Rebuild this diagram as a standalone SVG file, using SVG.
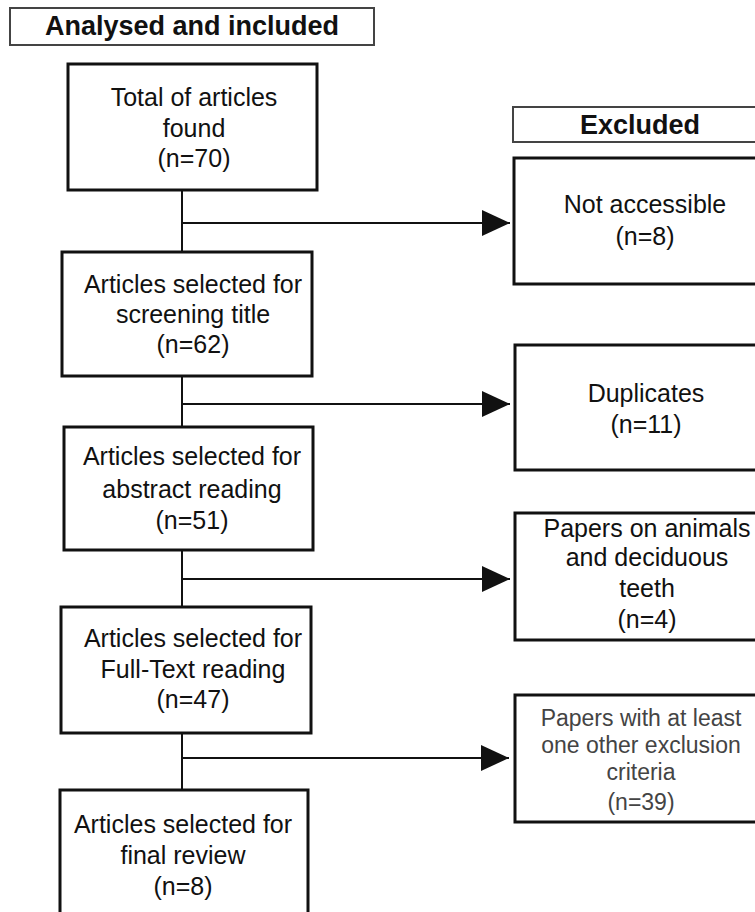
<svg xmlns="http://www.w3.org/2000/svg" width="755" height="912" viewBox="0 0 755 912">
<style>
  text { font-family: "Liberation Sans", Arial, sans-serif; fill: #111; text-anchor: middle; }
  .hdr rect { fill: #fff; stroke: #444; stroke-width: 2; }
  .hdr text { font-weight: bold; font-size: 27px; }
  .box rect { fill: #fff; stroke: #111; stroke-width: 3; }
  .box text { font-size: 25px; }
  .gray text { fill: #444; font-size: 23px; }
  .conn line { stroke: #111; stroke-width: 2; }
</style>
<defs>
  <marker id="arr" markerUnits="userSpaceOnUse" markerWidth="30" markerHeight="28" refX="28" refY="13" orient="auto">
    <polygon points="0,0 28,13 0,26" fill="#111"/>
  </marker>
</defs>
<rect width="755" height="912" fill="#fff"/>
<g id="connectors" class="conn">
  <line x1="182" y1="190" x2="182" y2="790"/>
  <line x1="182" y1="223" x2="510" y2="223" marker-end="url(#arr)"/>
  <line x1="182" y1="404" x2="510" y2="404" marker-end="url(#arr)"/>
  <line x1="182" y1="579" x2="510" y2="579" marker-end="url(#arr)"/>
  <line x1="182" y1="758" x2="509" y2="758" marker-end="url(#arr)"/>
</g>
<g id="hdr-included" class="hdr">
  <rect x="10" y="8" width="364" height="37"/>
  <text x="192" y="35">Analysed and included</text>
</g>
<g id="hdr-excluded" class="hdr">
  <rect x="513" y="107" width="260" height="35"/>
  <text x="640" y="134">Excluded</text>
</g>
<g id="n-total" class="box">
  <rect x="68" y="64" width="249" height="126"/>
  <text x="194" y="106">Total of articles</text>
  <text x="194" y="137">found</text>
  <text x="194" y="167">(n=70)</text>
</g>
<g id="n-screening" class="box">
  <rect x="62" y="252" width="250" height="124"/>
  <text x="193" y="293">Articles selected for</text>
  <text x="193" y="323">screening title</text>
  <text x="193" y="353">(n=62)</text>
</g>
<g id="n-abstract" class="box">
  <rect x="64" y="427" width="249" height="123"/>
  <text x="192" y="465">Articles selected for</text>
  <text x="192" y="498">abstract reading</text>
  <text x="192" y="529">(n=51)</text>
</g>
<g id="n-fulltext" class="box">
  <rect x="61" y="607" width="250" height="126"/>
  <text x="193" y="647">Articles selected for</text>
  <text x="193" y="678">Full-Text reading</text>
  <text x="193" y="708">(n=47)</text>
</g>
<g id="n-final" class="box">
  <rect x="60" y="790" width="248" height="140"/>
  <text x="183" y="833">Articles selected for</text>
  <text x="183" y="864">final review</text>
  <text x="183" y="895">(n=8)</text>
</g>
<g id="x-notaccessible" class="box">
  <rect x="514" y="158" width="260" height="126"/>
  <text x="645" y="213">Not accessible</text>
  <text x="645" y="245">(n=8)</text>
</g>
<g id="x-duplicates" class="box">
  <rect x="515" y="345" width="260" height="125"/>
  <text x="646" y="402">Duplicates</text>
  <text x="646" y="433">(n=11)</text>
</g>
<g id="x-animals" class="box">
  <rect x="515" y="513" width="260" height="127"/>
  <text x="647" y="537">Papers on animals</text>
  <text x="647" y="566">and deciduous</text>
  <text x="647" y="597">teeth</text>
  <text x="647" y="628">(n=4)</text>
</g>
<g id="x-other" class="box gray">
  <rect x="515" y="695" width="260" height="127"/>
  <text x="641" y="726">Papers with at least</text>
  <text x="641" y="753">one other exclusion</text>
  <text x="641" y="780">criteria</text>
  <text x="641" y="810">(n=39)</text>
</g>
</svg>
